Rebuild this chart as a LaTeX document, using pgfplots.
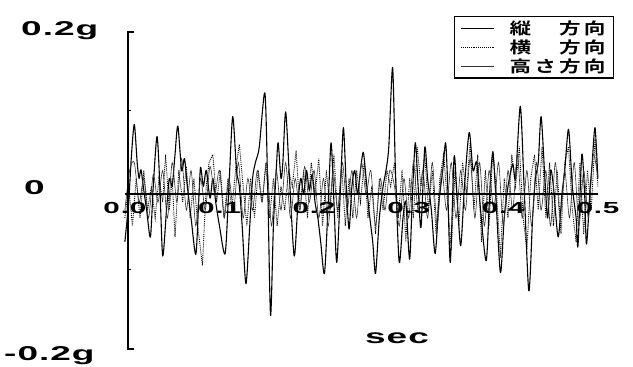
\documentclass[border=0pt]{standalone}
\usepackage{pgfplots}
\pgfplotsset{compat=1.18}
\usepackage{fontspec}
\newfontfamily\lab{Liberation Sans}[FakeStretch=1.85, LetterSpace=5]
\newfontfamily\cjk{Noto Sans CJK JP}[BoldFont={Noto Sans CJK JP Bold}, FakeStretch=1.35, LetterSpace=20]
\begin{document}
\begin{tikzpicture}[x=1pt,y=1pt]
\useasboundingbox (0,0) rectangle (633,367);
\begin{axis}[
  at={(132,18)}, anchor=south west,
  scale only axis, width=473pt, height=317pt,
  xmin=0, xmax=0.5, ymin=-0.2, ymax=0.2,
  axis x line=middle, axis y line=none,
  x axis line style={-, line width=1.8pt},
  axis on top,
  xtick={0,0.1,0.2,0.3,0.4,0.5},
  xticklabels={0.0,0.1,0.2,0.3,0.4,0.5},
  major tick length=0pt,
  xticklabel style={font=\lab\bfseries\fontsize{16}{16}\selectfont, inner sep=0pt, yshift=-8pt, anchor=north},
  ytick=\empty,
  clip=false,
  legend style={at={(0.696,1.063)}, anchor=north west, draw=black, line width=1.3pt,
    inner xsep=6pt, inner ysep=2pt, row sep=0pt,
    font=\cjk\bfseries\fontsize{16}{18}\selectfont, cells={anchor=west},
    /tikz/every odd column/.append style={column sep=13pt}},
  legend image code/.code={\draw[#1, line width=0.8pt] (0pt,0pt) -- (33pt,0pt);},
]
\addplot[black, line width=1.1pt, line join=round, smooth, tension=0.45] coordinates {
(0.000,-0.060) (0.004,-0.010) (0.007,0.050) (0.010,0.088) (0.013,0.040) (0.015,0.020)
(0.017,0.031) (0.020,0.005) (0.023,-0.020) (0.027,-0.054) (0.030,0.010) (0.034,0.073)
(0.037,0.010) (0.040,-0.078) (0.044,-0.020) (0.047,0.020) (0.050,0.010) (0.053,0.050)
(0.056,0.086) (0.060,0.030) (0.063,0.045) (0.066,0.010) (0.070,-0.030) (0.075,-0.076)
(0.078,-0.010) (0.080,0.034) (0.083,0.010) (0.086,0.030) (0.090,-0.005) (0.093,0.020)
(0.096,-0.010) (0.100,-0.040) (0.106,-0.075) (0.110,0.010) (0.114,0.098) (0.118,0.030)
(0.121,0.010) (0.124,-0.040) (0.128,-0.113) (0.132,-0.040) (0.135,0.020) (0.138,0.040)
(0.142,0.059) (0.148,0.128) (0.151,0.010) (0.154,-0.153) (0.157,-0.040) (0.160,0.030)
(0.162,0.065) (0.165,0.020) (0.167,0.040) (0.170,0.104) (0.174,0.020) (0.179,-0.078)
(0.183,-0.010) (0.186,0.020) (0.189,0.000) (0.192,0.030) (0.195,0.005) (0.198,0.025)
(0.201,-0.010) (0.204,-0.030) (0.207,-0.060) (0.211,-0.100) (0.215,-0.010) (0.218,0.065)
(0.221,-0.010) (0.224,-0.086) (0.228,0.010) (0.231,0.084) (0.234,0.010) (0.237,-0.044)
(0.240,0.010) (0.243,0.030) (0.246,0.000) (0.249,0.030) (0.252,0.053) (0.255,0.020)
(0.258,-0.020) (0.262,-0.060) (0.265,-0.100) (0.269,-0.030) (0.273,0.010) (0.276,0.030)
(0.279,0.060) (0.283,0.160) (0.286,0.030) (0.290,-0.086) (0.294,-0.030) (0.297,-0.010)
(0.301,-0.082) (0.304,0.000) (0.307,0.065) (0.310,0.010) (0.313,-0.042) (0.317,0.059)
(0.320,0.020) (0.324,-0.020) (0.328,-0.075) (0.332,-0.010) (0.336,0.030) (0.339,0.065)
(0.341,0.020) (0.344,-0.086) (0.348,0.047) (0.351,0.000) (0.355,-0.065) (0.359,0.010)
(0.364,0.078) (0.368,0.030) (0.372,0.040) (0.376,-0.020) (0.382,-0.084) (0.386,0.010)
(0.389,0.053) (0.392,0.000) (0.397,-0.099) (0.401,-0.030) (0.405,0.010) (0.410,0.038)
(0.413,0.020) (0.418,0.111) (0.422,0.010) (0.427,-0.122) (0.431,-0.030) (0.434,0.020)
(0.437,0.040) (0.440,0.098) (0.444,0.020) (0.447,-0.030) (0.450,0.030) (0.453,0.010)
(0.458,-0.054) (0.462,0.000) (0.465,0.030) (0.469,0.082) (0.473,0.010) (0.477,-0.030)
(0.479,-0.065) (0.483,0.050) (0.486,0.000) (0.488,-0.063) (0.492,0.010) (0.494,0.040)
(0.497,0.084) (0.500,0.020)
};
\addlegendentry{縦　方向}
\addplot[black, line width=0.9pt, densely dotted] coordinates {
(0.000,-0.030) (0.004,0.010) (0.008,-0.040) (0.012,0.020) (0.016,-0.030) (0.020,0.030)
(0.024,-0.020) (0.028,0.010) (0.032,-0.030) (0.036,0.020) (0.040,-0.010) (0.043,0.050)
(0.047,-0.020) (0.050,0.020) (0.053,-0.054) (0.057,0.030) (0.061,-0.010) (0.065,0.035)
(0.069,-0.030) (0.073,0.020) (0.077,-0.040) (0.082,-0.090) (0.086,0.010) (0.089,0.040)
(0.093,0.050) (0.097,-0.010) (0.101,0.030) (0.105,-0.030) (0.109,0.020) (0.113,-0.020)
(0.117,0.030) (0.121,0.063) (0.125,0.010) (0.129,-0.040) (0.133,0.020) (0.137,-0.030)
(0.141,0.030) (0.145,-0.010) (0.149,0.040) (0.153,-0.030) (0.157,0.020) (0.161,-0.040)
(0.165,0.010) (0.169,-0.020) (0.173,0.030) (0.177,0.010) (0.181,0.055) (0.185,-0.020)
(0.189,0.030) (0.193,-0.030) (0.197,0.040) (0.201,0.000) (0.205,0.045) (0.209,-0.040)
(0.213,0.030) (0.217,-0.020) (0.221,0.050) (0.225,-0.030) (0.229,0.040) (0.233,-0.040)
(0.237,0.020) (0.241,-0.030) (0.245,0.030) (0.249,-0.010) (0.253,0.040) (0.257,-0.030)
(0.261,0.010) (0.265,-0.050) (0.269,0.020) (0.273,-0.020) (0.277,0.030) (0.281,0.010)
(0.285,0.040) (0.289,-0.030) (0.293,0.030) (0.297,-0.060) (0.301,0.020) (0.305,-0.030)
(0.309,0.060) (0.313,0.010) (0.317,0.050) (0.321,-0.020) (0.325,0.030) (0.329,-0.050)
(0.333,0.020) (0.337,0.050) (0.341,-0.010) (0.345,-0.070) (0.349,0.030) (0.353,-0.040)
(0.357,0.040) (0.361,0.000) (0.365,0.065) (0.369,-0.020) (0.373,0.050) (0.377,-0.060)
(0.381,0.030) (0.385,-0.040) (0.389,0.055) (0.393,0.000) (0.397,-0.080) (0.401,0.020)
(0.405,-0.030) (0.409,0.050) (0.413,0.010) (0.417,0.060) (0.421,-0.030) (0.425,-0.070)
(0.429,0.020) (0.433,0.050) (0.437,-0.020) (0.441,0.060) (0.445,-0.030) (0.449,0.040)
(0.453,-0.040) (0.457,0.030) (0.461,-0.050) (0.465,0.040) (0.469,0.060) (0.473,-0.020)
(0.477,-0.060) (0.481,0.040) (0.485,-0.050) (0.489,0.030) (0.493,-0.020) (0.497,0.070)
(0.500,0.010)
};
\addlegendentry{横　方向}
\addplot[black!80, line width=0.6pt, smooth, tension=0.45] coordinates {
(0.000,-0.020) (0.005,0.030) (0.010,0.040) (0.015,-0.010) (0.020,0.020) (0.025,-0.030)
(0.030,0.025) (0.035,-0.010) (0.040,0.030) (0.045,-0.030) (0.050,0.040) (0.055,-0.010)
(0.060,0.045) (0.065,-0.020) (0.070,0.030) (0.075,-0.040) (0.080,0.020) (0.085,-0.020)
(0.090,0.035) (0.095,0.000) (0.100,0.030) (0.105,-0.030) (0.110,0.020) (0.115,-0.020)
(0.120,0.040) (0.125,-0.030) (0.130,0.020) (0.135,-0.020) (0.140,0.030) (0.145,-0.010)
(0.150,0.040) (0.155,-0.040) (0.160,0.030) (0.165,-0.020) (0.170,0.040) (0.175,-0.030)
(0.180,0.020) (0.185,-0.020) (0.190,0.035) (0.195,-0.010) (0.200,0.030) (0.205,-0.030)
(0.210,0.020) (0.215,-0.040) (0.220,0.030) (0.225,-0.020) (0.230,0.040) (0.235,-0.020)
(0.240,0.030) (0.245,-0.030) (0.250,0.040) (0.255,0.000) (0.260,0.030) (0.265,-0.040)
(0.270,0.020) (0.275,-0.020) (0.280,0.030) (0.285,0.010) (0.290,-0.040) (0.295,0.020)
(0.300,-0.030) (0.305,0.040) (0.310,-0.020) (0.315,0.030) (0.320,-0.030) (0.325,0.040)
(0.330,-0.040) (0.335,0.030) (0.340,-0.020) (0.345,0.040) (0.350,-0.030) (0.355,0.030)
(0.360,-0.020) (0.365,0.045) (0.370,-0.030) (0.375,0.040) (0.380,-0.040) (0.385,0.030)
(0.390,-0.020) (0.395,0.040) (0.400,-0.040) (0.405,0.030) (0.410,-0.020) (0.415,0.050)
(0.420,-0.030) (0.425,0.030) (0.430,-0.040) (0.435,0.040) (0.440,-0.020) (0.445,0.030)
(0.450,-0.040) (0.455,0.040) (0.460,-0.030) (0.465,0.030) (0.470,-0.030) (0.475,0.040)
(0.480,-0.040) (0.485,0.030) (0.490,-0.030) (0.495,0.050) (0.500,0.020)
};
\addlegendentry{高さ方向}
\end{axis}
% left axis bracket with small ticks
\draw[line width=1.2pt] (134,335) -- (128,335) -- (128,18) -- (134,18);
\draw[line width=0.8pt] (128,256.5) -- (131,256.5);
\draw[line width=0.8pt] (128,97.5) -- (131,97.5);
% y labels and axis title
\node[anchor=west, inner sep=0pt, font=\lab\bfseries\fontsize{20}{20}\selectfont] at (21,336) {0.2g};
\node[anchor=west, inner sep=0pt, font=\lab\bfseries\fontsize{20}{20}\selectfont] at (24,179) {0};
\node[anchor=west, inner sep=0pt, font=\lab\bfseries\fontsize{20}{20}\selectfont] at (4,11) {-0.2g};
\node[inner sep=0pt, font=\lab\bfseries\fontsize{20}{20}\selectfont] at (397,29) {sec};
\end{tikzpicture}
\end{document}
